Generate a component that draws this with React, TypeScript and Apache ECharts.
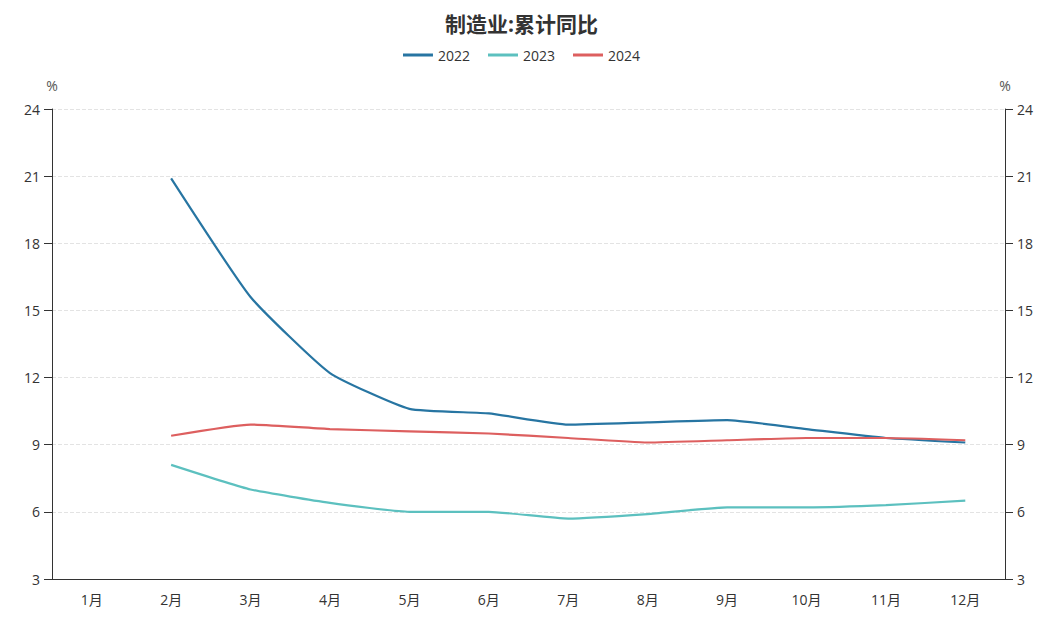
import React, { useEffect, useRef } from "react";
import * as echarts from "echarts";

const months = ["1月", "2月", "3月", "4月", "5月", "6月", "7月", "8月", "9月", "10月", "11月", "12月"];
const s2022 = [null, 20.9, 15.6, 12.2, 10.6, 10.4, 9.9, 10.0, 10.1, 9.7, 9.3, 9.1];
const s2023 = [null, 8.1, 7.0, 6.4, 6.0, 6.0, 5.7, 5.9, 6.2, 6.2, 6.3, 6.5];
const s2024 = [null, 9.4, 9.9, 9.7, 9.6, 9.5, 9.3, 9.1, 9.2, 9.3, 9.3, 9.2];
const yTicks = { min: 3, max: 24, interval: 3 };

const FONT = "'Open Sans', 'Noto Sans CJK SC', sans-serif";

export default function App() {
  const ref = useRef<HTMLDivElement>(null);
  useEffect(() => {
    const chart = echarts.init(ref.current!, null, { renderer: "svg" });
    const yAxisBase = (pos: "left" | "right") => ({
      type: "value",
      position: pos,
      min: yTicks.min,
      max: yTicks.max,
      interval: yTicks.interval,
      name: "%",
      nameGap: 17,
      nameTextStyle: { color: "#555", fontSize: 14, fontFamily: FONT, align: "center" },
      axisLine: { show: true, lineStyle: { color: "#333", width: 1 } },
      axisTick: { show: true, length: 8, lineStyle: { color: "#333" } },
      axisLabel: { color: "#333", fontSize: 14, fontFamily: FONT, margin: 12 },
      splitLine: pos === "left" ? { show: true, lineStyle: { type: "dashed", color: "#e3e3e3" } } : { show: false },
    });
    chart.setOption({
      animation: false,
      backgroundColor: "#fff",
      title: {
        text: "制造业:累计同比",
        left: "center",
        top: 8,
        textStyle: { fontSize: 21, fontWeight: "bold", color: "#333", fontFamily: FONT },
      },
      legend: {
        top: 43,
        left: "center",
        itemWidth: 30,
        itemHeight: 3,
        itemGap: 18,
        icon: "rect",
        textStyle: { fontSize: 14, color: "#333", fontFamily: FONT },
        data: ["2022", "2023", "2024"],
      },
      grid: { left: 52, right: 38, top: 109, bottom: 47 },
      xAxis: {
        type: "category",
        data: months,
        boundaryGap: true,
        axisLine: { lineStyle: { color: "#333" } },
        axisTick: { alignWithLabel: true, length: 8, lineStyle: { color: "#333" } },
        axisLabel: { color: "#333", fontSize: 14, fontFamily: FONT, margin: 13 },
      },
      yAxis: [yAxisBase("left"), yAxisBase("right")],
      series: [
        { name: "2022", type: "line", data: s2022, showSymbol: false, symbol: "none", smooth: 0.15, lineStyle: { width: 2.2, color: "#2775a2" }, itemStyle: { color: "#2775a2" } },
        { name: "2023", type: "line", data: s2023, showSymbol: false, symbol: "none", smooth: 0.15, lineStyle: { width: 2.2, color: "#5cc0bf" }, itemStyle: { color: "#5cc0bf" } },
        { name: "2024", type: "line", data: s2024, showSymbol: false, symbol: "none", smooth: 0.15, lineStyle: { width: 2.2, color: "#dd5f5f" }, itemStyle: { color: "#dd5f5f" } },
      ],
    });
    return () => chart.dispose();
  }, []);
  return <div ref={ref} style={{ position: "fixed", left: 0, top: 0, width: 1043, height: 626 }} />;
}
